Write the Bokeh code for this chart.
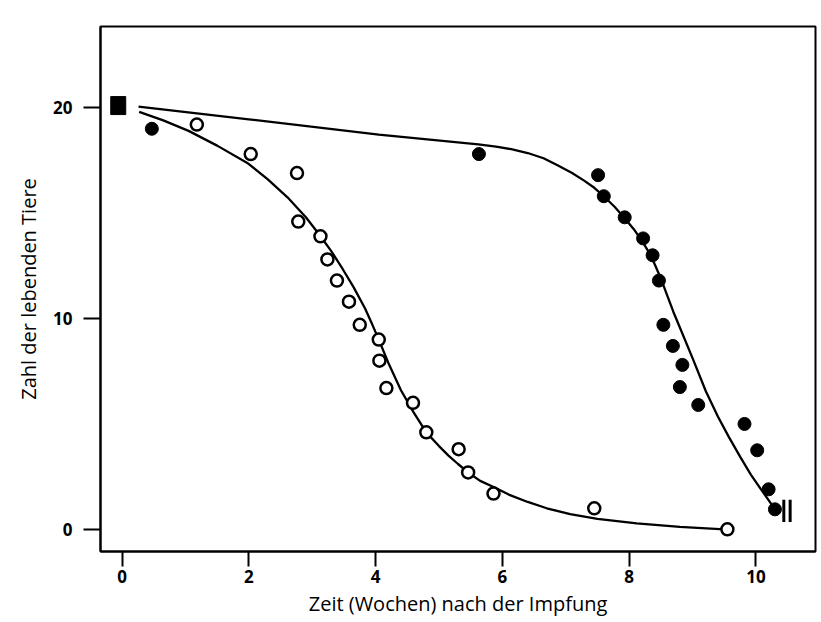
from bokeh.plotting import figure
from bokeh.models import Range1d, FixedTicker
from bokeh.embed import file_html
from bokeh.resources import INLINE

# Survival counts after inoculation (weeks vs. number of living animals)

# common starting count of both groups
start_x = [-0.06]
start_y = [20.1]

# group with open circles
open_x = [1.18, 2.03, 2.76, 2.78, 3.13, 3.24, 3.39, 3.58, 3.75, 4.05,
          4.06, 4.17, 4.59, 4.80, 5.31, 5.46, 5.86, 7.45, 9.55]
open_y = [19.2, 17.8, 16.9, 14.6, 13.9, 12.8, 11.8, 10.8, 9.7, 9.0,
          8.0, 6.7, 6.0, 4.6, 3.8, 2.7, 1.7, 1.0, 0.0]

# group with filled circles
filled_x = [0.47, 5.63, 7.51, 7.60, 7.93, 8.22, 8.37, 8.47, 8.54, 8.69,
            8.84, 8.80, 9.09, 9.82, 10.02, 10.20, 10.30]
filled_y = [19.0, 17.8, 16.8, 15.8, 14.8, 13.8, 13.0, 11.8, 9.7, 8.7,
            7.8, 6.75, 5.9, 5.0, 3.75, 1.9, 0.95]

# fitted survival curves
curve_a_x = [0.27, 0.65, 1.05, 1.50, 1.99, 2.30, 2.61, 2.90, 3.12, 3.30,
             3.48, 3.65, 3.83, 3.95, 4.05, 4.20, 4.40, 4.60, 4.80, 5.00,
             5.15, 5.30, 5.46, 5.65, 5.87, 6.10, 6.40, 6.70, 7.07, 7.50,
             8.12, 8.80, 9.50]
curve_a_y = [19.8, 19.4, 18.9, 18.2, 17.35, 16.6, 15.75, 14.8, 13.95, 13.2,
             12.35, 11.5, 10.5, 9.7, 9.0, 7.9, 6.6, 5.55, 4.6, 3.95,
             3.5, 3.1, 2.7, 2.3, 2.0, 1.65, 1.3, 1.0, 0.72, 0.5,
             0.28, 0.12, 0.0]

curve_b_x = [0.26, 2.00, 4.05, 5.62, 5.90, 6.14, 6.40, 6.65, 6.87, 7.10,
             7.29, 7.45, 7.60, 7.77, 7.93, 8.07, 8.20, 8.30, 8.40, 8.50,
             8.60, 8.70, 8.81, 9.01, 9.21, 9.40, 9.57, 9.75, 9.92, 10.08,
             10.23, 10.30]
curve_b_y = [20.05, 19.45, 18.72, 18.26, 18.15, 18.03, 17.85, 17.6, 17.27, 16.9,
             16.54, 16.2, 15.8, 15.3, 14.76, 14.25, 13.7, 13.2, 12.6, 11.9,
             11.1, 10.3, 9.5, 8.05, 6.55, 5.35, 4.4, 3.45, 2.6, 1.9,
             1.26, 0.95]

# end-of-observation mark after the last filled point
break_x = [10.44, 10.54]
break_y0 = [0.35, 0.35]
break_y1 = [1.4, 1.4]

x_ticks = [0, 2, 4, 6, 8, 10]
y_ticks = [0, 10, 20]

FONT = "Open Sans"

p = figure(width=821, height=622,
           x_range=Range1d(-0.34, 10.94), y_range=Range1d(-1.05, 23.85),
           output_backend="svg", toolbar_location=None,
           min_border_left=100, min_border_right=6,
           min_border_top=26, min_border_bottom=71)

p.background_fill_color = "white"
p.border_fill_color = "white"
p.xgrid.visible = False
p.ygrid.visible = False
p.outline_line_color = "black"
p.outline_line_width = 2

p.xaxis.ticker = FixedTicker(ticks=x_ticks)
p.yaxis.ticker = FixedTicker(ticks=y_ticks)
for ax in (p.xaxis[0], p.yaxis[0]):
    ax.axis_line_color = "black"
    ax.axis_line_width = 2
    ax.major_tick_line_color = "black"
    ax.major_tick_line_width = 2
    ax.major_tick_in = 0
    ax.minor_tick_line_color = None
    ax.major_label_text_font = FONT
    ax.major_label_text_font_size = "17px"
    ax.major_label_text_font_style = "bold"
    ax.major_label_text_color = "black"
    ax.axis_label_text_font = FONT
    ax.axis_label_text_font_size = "20px"
    ax.axis_label_text_font_style = "normal"
    ax.axis_label_text_color = "black"

p.xaxis.major_tick_out = 15
p.xaxis.major_label_standoff = 3
p.xaxis.axis_label = "Zeit (Wochen) nach der Impfung"
p.xaxis.axis_label_standoff = 4

p.yaxis.major_tick_out = 17
p.yaxis.major_label_standoff = 11
p.yaxis.axis_label = "Zahl der lebenden Tiere"
p.yaxis.axis_label_standoff = 8

p.line(curve_a_x, curve_a_y, line_color="black", line_width=2.3)
p.line(curve_b_x, curve_b_y, line_color="black", line_width=2.3)

p.scatter(open_x, open_y, marker="circle", size=12,
          fill_color="white", line_color="black", line_width=2.5)
p.scatter(filled_x, filled_y, marker="circle", size=13,
          fill_color="black", line_color="black")
p.rect(start_x, start_y, width=15, height=18,
       width_units="screen", height_units="screen",
       fill_color="black", line_color="black")
p.segment(break_x, break_y0, break_x, break_y1,
          line_color="black", line_width=3)

open("out.html", "w").write(file_html(p, INLINE))
